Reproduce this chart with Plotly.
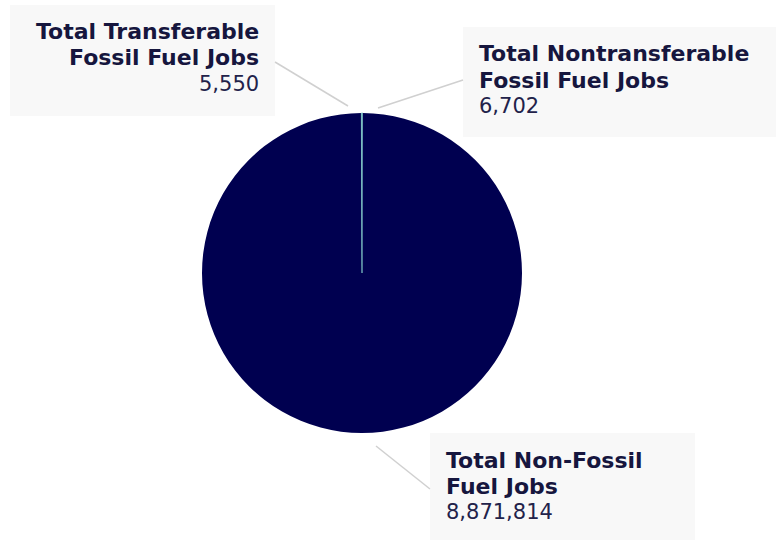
import plotly.graph_objects as go

labels = ["Total Nontransferable Fossil Fuel Jobs", "Total Non-Fossil Fuel Jobs", "Total Transferable Fossil Fuel Jobs"]
values = [6702, 8871814, 5550]
colors = ["#7cc0c4", "#000050", "#7cc0c4"]
label_lines = {
    "Total Transferable Fossil Fuel Jobs": ["Total Transferable", "Fossil Fuel Jobs"],
    "Total Nontransferable Fossil Fuel Jobs": ["Total Nontransferable", "Fossil Fuel Jobs"],
    "Total Non-Fossil Fuel Jobs": ["Total Non-Fossil", "Fuel Jobs"],
}

W, H = 776, 540
def px(x): return x / W
def py(y): return 1 - y / H

fig = go.Figure(go.Pie(
    labels=labels, values=values, sort=False, direction="clockwise", rotation=0,
    marker=dict(colors=colors, line=dict(color=colors, width=[0.8, 0, 0.8])),
    textinfo="none", hoverinfo="label+value", showlegend=False,
    domain=dict(x=[px(202), px(522)], y=[py(433), py(113)]),
))

font_c = "#16163e"
boxes = [(10, 5, 275, 116), (463, 27, 776, 137), (430, 433, 695, 540)]
shapes = []
for x0, y0, x1, y1 in boxes:
    shapes.append(dict(type="rect", xref="paper", yref="paper", x0=px(x0), x1=px(x1),
                       y0=py(y1), y1=py(y0), fillcolor="#f8f8f8", line=dict(width=0), layer="below"))
lines = [((275, 62), (348, 106)), ((378, 108), (463, 80)), ((376, 446), (430, 489))]
for (a, b), (c, d) in lines:
    shapes.append(dict(type="line", xref="paper", yref="paper", x0=px(a), y0=py(b), x1=px(c), y1=py(d),
                       line=dict(color="#d0d0d0", width=1.5)))

placements = {
    "Total Transferable Fossil Fuel Jobs": (261, 32, "right"),
    "Total Nontransferable Fossil Fuel Jobs": (477, 54, "left"),
    "Total Non-Fossil Fuel Jobs": (444, 460, "left"),
}
annotations = []
for lab, val in zip(labels, values):
    x, y, anchor = placements[lab]
    rows = [(t, True) for t in label_lines[lab]] + [(f"{val:,}", False)]
    for i, (t, bold) in enumerate(rows):
        annotations.append(dict(
            text=f"<b>{t}</b>" if bold else t, x=px(x), y=py(y + 26 * i),
            xref="paper", yref="paper", xanchor=anchor, yanchor="middle", align=anchor,
            showarrow=False, font=dict(family="DejaVu Sans", size=22 if bold else 21,
                                       color=font_c if bold else "#22224a")))

fig.update_layout(width=W, height=H, margin=dict(l=0, r=0, t=0, b=0),
                  paper_bgcolor="white", plot_bgcolor="white",
                  shapes=shapes, annotations=annotations)
fig.write_html("out.html", config={"displayModeBar": False})
with open("out.html", encoding="utf-8") as f:
    html = f.read()
html = html.replace("<body>", '<body style="margin:0">', 1)
with open("out.html", "w", encoding="utf-8") as f:
    f.write(html)
